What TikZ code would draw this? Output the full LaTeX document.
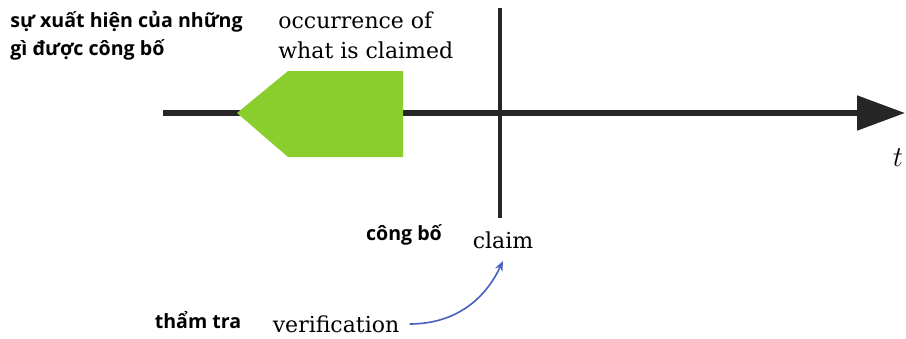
\documentclass[tikz,border=0pt]{standalone}
\usepackage{fontspec}
\setmainfont{DejaVu Serif}
\newfontfamily\vnfont{Open Sans}
\usepackage{tikz}
\usetikzlibrary{arrows.meta}
\definecolor{eventgreen}{RGB}{137,206,44}
\definecolor{verifblue}{RGB}{74,96,192}
\tikzstyle{en} = [font=\fontsize{11}{15}\selectfont, inner sep=0pt, align=left]
\tikzstyle{vn} = [font=\vnfont\bfseries\fontsize{9.8}{14}\selectfont, inner sep=0pt, align=left]
\tikzstyle{axis} = [line width=2.6pt, -{Triangle[length=24pt,width=17pt]}]
\tikzstyle{arrow} = [line width=0.8pt, verifblue, -{Stealth[length=5pt,width=4pt]}]

\begin{document}
\begin{tikzpicture}[x=0.5pt, y=-0.5pt]
\useasboundingbox (0,0) rectangle (906,338);
% time axis and the moment of the claim
\coordinate (axis_start) at (163,113);
\coordinate (axis_end) at (905,113);
\draw [axis, black!85] (axis_start) -- (axis_end);
\coordinate (claim_top) at (500,8);
\coordinate (claim_bot) at (500,218);
\draw [line width=2pt, black!85] (claim_top) -- (claim_bot);
\fill [eventgreen] (237,113) -- (288,71) -- (403,71) -- (403,157) -- (288,157) -- cycle;

\node (t) at (898,158) {\fontsize{15}{15}\selectfont$t$};
\node (occ) [en, anchor=west] at (278,35) {occurrence of\\what is claimed};
\node (occ_vn) [vn, anchor=west] at (10,36) {sự xuất hiện của những\\gì được công bố};
\node (claim) [en] at (503,240) {claim};
\node (claim_vn) [vn] at (404,235) {công bố};
\node (verif) [en] at (336,324) {verification};
\node (verif_vn) [vn] at (198,320) {thẩm tra};

\draw [arrow] ([xshift=5pt]verif.east) to[out=0, in=-115] ([yshift=-6pt]claim.south);
\end{tikzpicture}
\end{document}
